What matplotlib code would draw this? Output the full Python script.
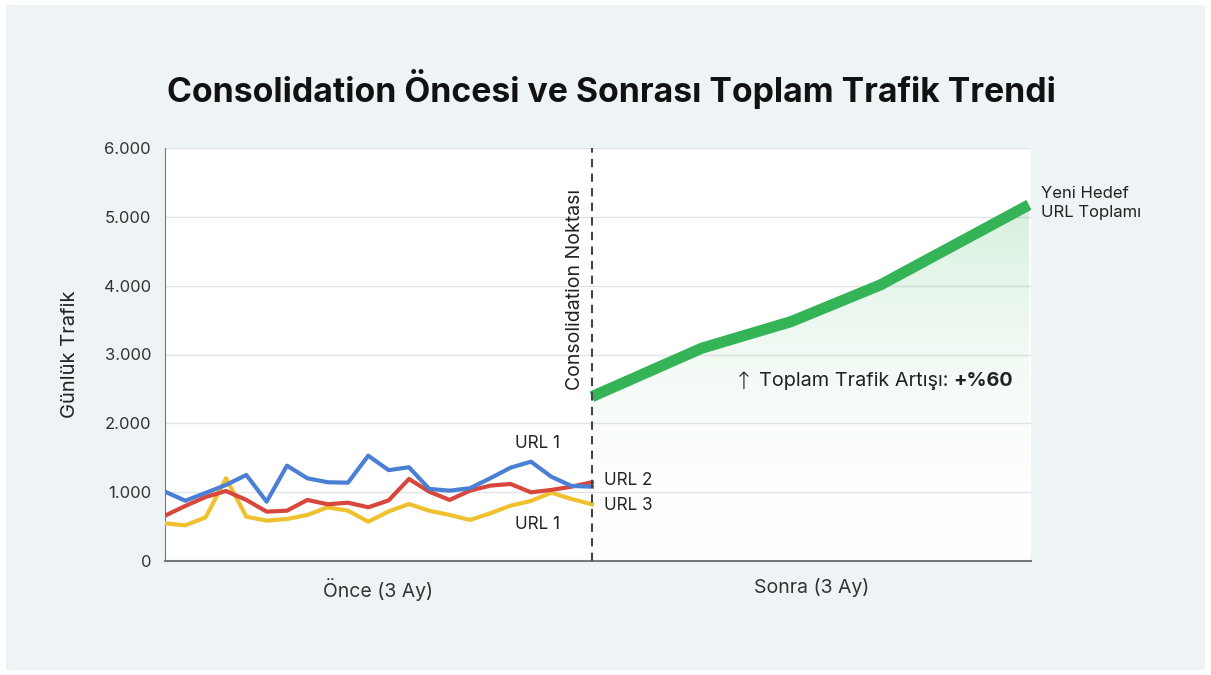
import matplotlib
matplotlib.use("Agg")
import matplotlib.pyplot as plt
import matplotlib.ticker as mticker
import numpy as np

plt.rcParams['font.family'] = ['Inter', 'DejaVu Sans']

# "before" period: daily samples (index), three old URLs
days_before = np.arange(22)
url1 = [1007, 876, 990, 1105, 1250, 862, 1385, 1202, 1144, 1138, 1530, 1320,
        1362, 1047, 1022, 1057, 1202, 1356, 1443, 1225, 1090, 1080]
url2 = [658, 800, 930, 1017, 887, 717, 731, 887, 824, 847, 780, 880,
        1192, 1007, 887, 1022, 1095, 1119, 998, 1032, 1080, 1144]
url3 = [547, 518, 635, 1202, 644, 586, 610, 669, 780, 731, 571, 720,
        828, 731, 669, 596, 693, 804, 872, 993, 900, 824]

# "after" period: new target URL total
days_after = [21, 26.4, 30.8, 35.2, 42.5]
total_after = [2388, 3091, 3478, 4012, 5174]

consolidation_day = 21
x_max = 42.6
period_labels = ['Önce (3 Ay)', 'Sonra (3 Ay)']
period_centers = [10.5, 31.8]
yticks = [0, 1000, 2000, 3000, 4000, 5000, 6000]

c_blue = '#4a7fd4'
c_red = '#d8473c'
c_yellow = '#f0c12e'
c_green = '#35b357'
txt = '#222222'

fig = plt.figure(figsize=(12.11, 6.75), dpi=100)
fig.patch.set_facecolor('white')
bg = plt.Rectangle((0.005, 0.008), 0.99, 0.984, transform=fig.transFigure,
                   facecolor='#eef3f6', edgecolor='none', zorder=-10)
fig.patches.append(bg)

ax = fig.add_axes([165 / 1211, 1 - 561 / 675, (1031 - 165) / 1211, (561 - 148) / 675])
ax.set_facecolor('white')

ax.set_xlim(0, x_max)
ax.set_ylim(0, 6000)
ax.set_yticks(yticks)
ax.yaxis.set_major_formatter(mticker.FuncFormatter(lambda v, p: f'{int(v):,}'.replace(',', '.')))
ax.set_xticks(period_centers)
ax.set_xticklabels(period_labels)
ax.tick_params(axis='both', length=0, labelcolor='#333333')
ax.tick_params(axis='y', labelsize=12, pad=10)
ax.tick_params(axis='x', labelsize=14, pad=12)
ax.grid(axis='y', color='#e2e4e6', linewidth=1)
ax.set_axisbelow(True)
for s in ['top', 'right']:
    ax.spines[s].set_visible(False)
ax.spines['left'].set_color('#777777')
ax.spines['bottom'].set_color('#777777')
ax.spines['bottom'].set_linewidth(1.5)
ax.set_ylabel('Günlük Trafik', fontsize=14.5, color=txt, labelpad=18)

# gradient fill under the green line
poly = ax.fill_between(days_after, total_after, 0, color='none')
grad = np.linspace(0, 1, 256).reshape(-1, 1)
cmap = matplotlib.colors.LinearSegmentedColormap.from_list(
    'g', [(1, 1, 1, 0), (0.2, 0.7, 0.34, 0.2)])
img = ax.imshow(grad, extent=[consolidation_day, x_max, 0, max(total_after)],
                origin='lower', aspect='auto', cmap=cmap, zorder=1)
img.set_clip_path(poly.get_paths()[0], transform=ax.transData)

ax.plot(days_before, url3, color=c_yellow, lw=3, zorder=3, solid_joinstyle='round')
ax.plot(days_before, url2, color=c_red, lw=3, zorder=4, solid_joinstyle='round')
ax.plot(days_before, url1, color=c_blue, lw=3, zorder=5, solid_joinstyle='round')
ax.plot(days_after, total_after, color=c_green, lw=8, zorder=6, solid_capstyle='butt')

ax.axvline(consolidation_day, color='#444444', lw=1.5, ls=(0, (4, 3)), zorder=7)
ax.text(consolidation_day - 0.85, 3950, 'Consolidation Noktası', rotation=90,
        ha='center', va='center', fontsize=14, color=txt)

ax.text(18.3, 1700, 'URL 1', fontsize=12.3, color=txt, ha='center', va='center')
ax.text(18.3, 530, 'URL 1', fontsize=12.3, color=txt, ha='center', va='center')
ax.text(21.6, 1170, 'URL 2', fontsize=12.3, color=txt, ha='left', va='center')
ax.text(21.6, 800, 'URL 3', fontsize=12.3, color=txt, ha='left', va='center')
ax.text(43.1, 5200, 'Yeni Hedef\nURL Toplamı', fontsize=12, color=txt,
        ha='left', va='center', linespacing=1.3, clip_on=False)
ax.text(28.0, 2600, '↑', fontsize=17, color=txt, ha='left', va='center',
        family=['DejaVu Sans'], fontweight='light')
t = ax.text(29.2, 2610, 'Toplam Trafik Artışı: ', fontsize=14.3, color=txt,
            ha='left', va='center')
ax.annotate('+%60', xy=(1, 0.5), xycoords=t, va='center', ha='left',
            fontsize=14.3, color=txt, fontweight='bold')

fig.text(0.505, 0.868, 'Consolidation Öncesi ve Sonrası Toplam Trafik Trendi',
         ha='center', va='center', fontsize=24.3, fontweight='bold', color='#111111')

fig.savefig('out.png', dpi=100, facecolor=fig.get_facecolor())
